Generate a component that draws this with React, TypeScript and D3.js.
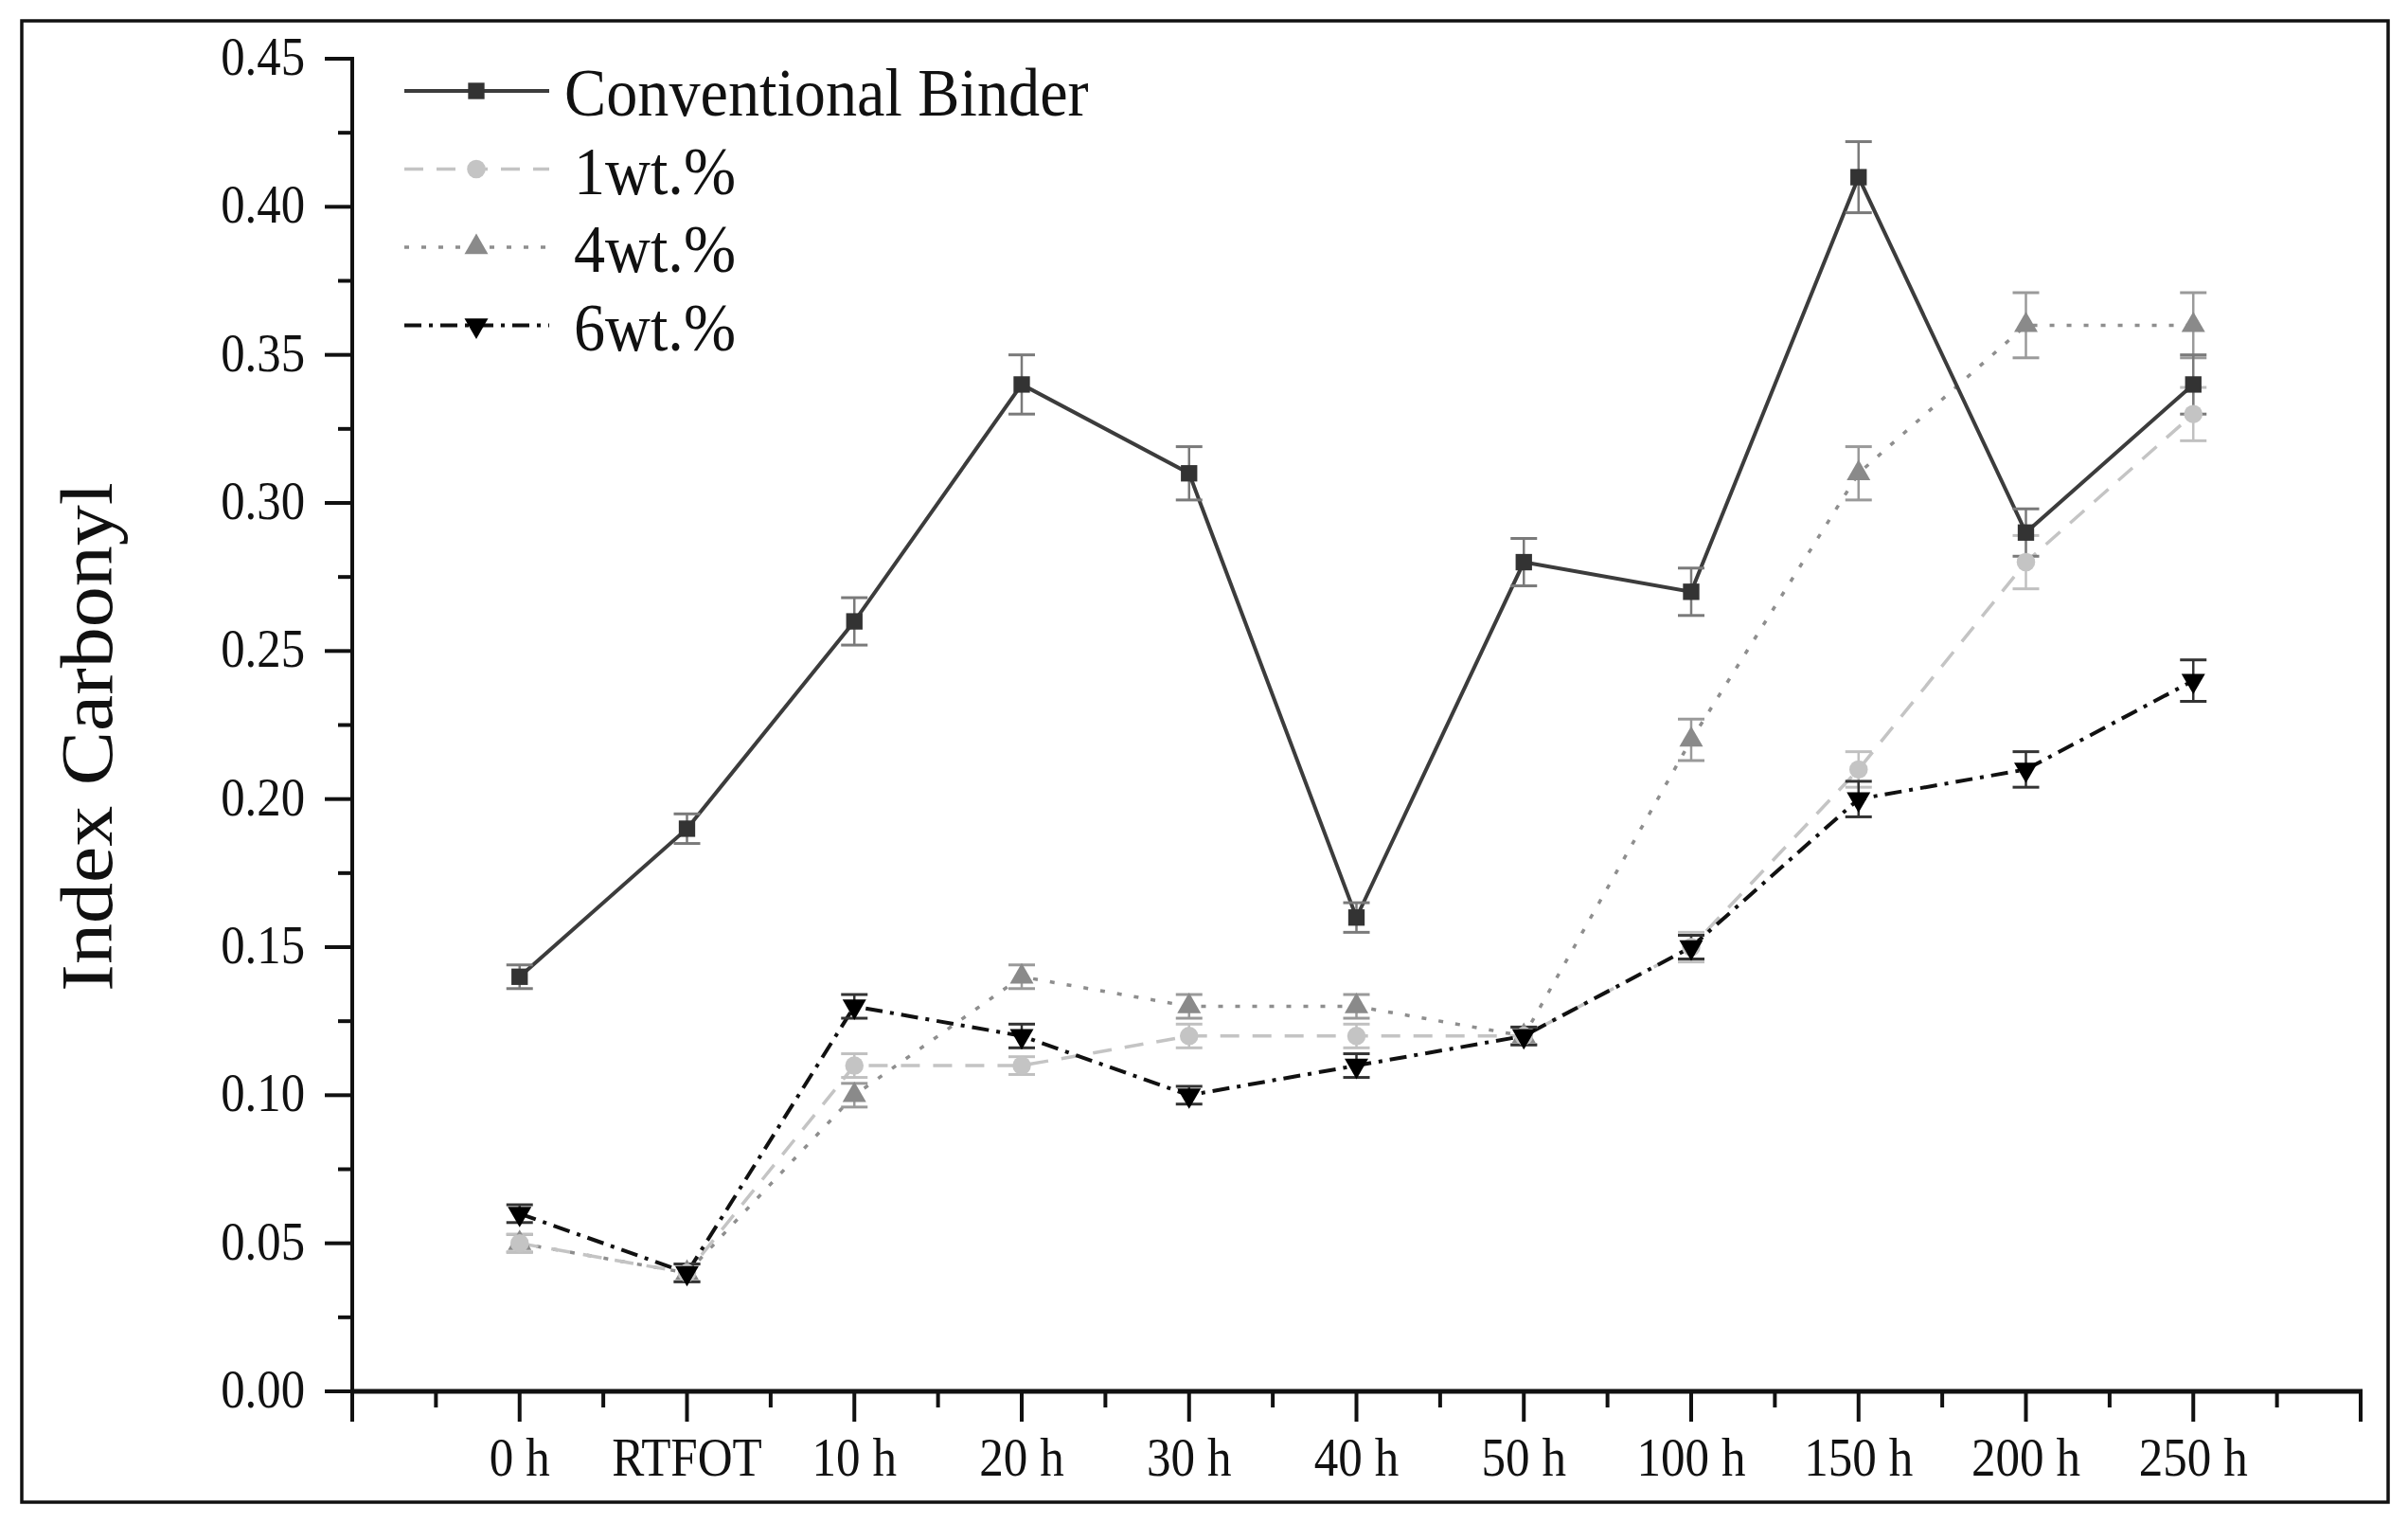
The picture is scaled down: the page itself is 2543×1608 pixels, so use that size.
import React from "react";
import * as d3 from "d3";

const categories = ["0 h", "RTFOT", "10 h", "20 h", "30 h", "40 h", "50 h", "100 h", "150 h", "200 h", "250 h"];
const conventional = [0.14, 0.19, 0.26, 0.34, 0.31, 0.16, 0.28, 0.27, 0.41, 0.29, 0.34];
const conventionalErr = [0.004, 0.005, 0.008, 0.01, 0.009, 0.005, 0.008, 0.008, 0.012, 0.008, 0.01];
const wt1 = [0.05, 0.04, 0.11, 0.11, 0.12, 0.12, 0.12, 0.15, 0.21, 0.28, 0.33];
const wt1Err = [0.003, 0.003, 0.004, 0.003, 0.004, 0.004, 0.003, 0.005, 0.006, 0.009, 0.009];
const wt4 = [0.05, 0.04, 0.1, 0.14, 0.13, 0.13, 0.12, 0.22, 0.31, 0.36, 0.36];
const wt4Err = [0.003, 0.003, 0.004, 0.004, 0.004, 0.004, 0.003, 0.007, 0.009, 0.011, 0.011];
const wt6 = [0.06, 0.04, 0.13, 0.12, 0.1, 0.11, 0.12, 0.15, 0.2, 0.21, 0.24];
const wt6Err = [0.003, 0.003, 0.004, 0.004, 0.003, 0.004, 0.003, 0.004, 0.006, 0.006, 0.007];
const yTicks = [0, 0.05, 0.1, 0.15, 0.2, 0.25, 0.3, 0.35, 0.4, 0.45];
const legendLabels = ["Conventional Binder", "1wt.%", "4wt.%", "6wt.%"];

const W = 2543;
const H = 1608;
const FONT = "'Liberation Serif', 'Times New Roman', serif";

type Series = {
  name: string;
  values: number[];
  err: number[];
  color: string;
  markerColor: string;
  errColor: string;
  dash: string;
  width: number;
  symbol: d3.SymbolType;
  size: number;
  rotate: number;
};

const series: Series[] = [
  { name: legendLabels[2], values: wt4, err: wt4Err, color: "#8e8e8e", markerColor: "#8a8a8a", errColor: "#9a9a9a", dash: "5 13", width: 3.5, symbol: d3.symbolTriangle, size: 270, rotate: 0 },
  { name: legendLabels[1], values: wt1, err: wt1Err, color: "#c4c4c4", markerColor: "#c4c4c4", errColor: "#c0c0c0", dash: "20 14", width: 3.5, symbol: d3.symbolCircle, size: 300, rotate: 0 },
  { name: legendLabels[0], values: conventional, err: conventionalErr, color: "#3c3c3c", markerColor: "#333333", errColor: "#7a7a7a", dash: "", width: 4, symbol: d3.symbolSquare, size: 300, rotate: 0 },
  { name: legendLabels[3], values: wt6, err: wt6Err, color: "#111111", markerColor: "#000000", errColor: "#333333", dash: "18 8 4 8", width: 4, symbol: d3.symbolTriangle, size: 270, rotate: 180 },
];

const legendOrder = [2, 1, 0, 3];

export default function App() {
  const x = d3.scaleLinear().domain([-1, 11]).range([372, 2493]);
  const y = d3.scaleLinear().domain([0, 0.45]).range([1469, 62]);
  const line = d3
    .line<number>()
    .x((_, i) => x(i))
    .y((d) => y(d));

  const yMinor = d3.range(0, 0.4501, 0.025);
  const xMajor = d3.range(-1, 12, 1);
  const xMinor = d3.range(-0.5, 11, 1);

  return (
    <svg
      width={W}
      height={H}
      style={{ position: "absolute", left: 0, top: 0, background: "#fff" }}
      fontFamily={FONT}
    >
      <rect x={0} y={0} width={W} height={H} fill="#fff" />
      <rect x={23} y={22} width={2499} height={1564} fill="none" stroke="#111" strokeWidth={3.5} />

      {/* y axis title */}
      <text
        transform={`translate(118, 778) rotate(-90) scale(1, 0.9)`}
        textAnchor="middle"
        fontSize={86}
        fill="#111"
      >
        Index Carbonyl
      </text>

      {/* series lines */}
      {series.map((s) => (
        <path
          key={"l" + s.name}
          d={line(s.values) || ""}
          fill="none"
          stroke={s.color}
          strokeWidth={s.width}
          strokeDasharray={s.dash || undefined}
        />
      ))}

      {/* error bars */}
      {series.map((s) => (
        <g key={"e" + s.name} stroke={s.errColor} strokeWidth={2.5}>
          {s.values.map((v, i) => {
            const cx = x(i);
            const y1 = y(v + s.err[i]);
            const y2 = y(v - s.err[i]);
            return (
              <g key={i}>
                <line x1={cx} x2={cx} y1={y1} y2={y2} />
                <line x1={cx - 14} x2={cx + 14} y1={y1} y2={y1} strokeWidth={3} />
                <line x1={cx - 14} x2={cx + 14} y1={y2} y2={y2} strokeWidth={3} />
              </g>
            );
          })}
        </g>
      ))}

      {/* markers */}
      {series.map((s) => {
        const sym = d3.symbol().type(s.symbol).size(s.size)();
        return (
          <g key={"m" + s.name}>
            {s.values.map((v, i) => (
              <path
                key={i}
                d={sym || ""}
                transform={`translate(${x(i)}, ${y(v)}) rotate(${s.rotate})`}
                fill={s.markerColor}
              />
            ))}
          </g>
        );
      })}

      {/* y axis */}
      <line x1={372} x2={372} y1={y(0.45) - 2} y2={1469} stroke="#111" strokeWidth={4} />
      {yMinor.map((t, i) => (
        <line
          key={"ym" + i}
          x1={372}
          x2={i % 2 === 0 ? 343 : 357}
          y1={y(t)}
          y2={y(t)}
          stroke="#111"
          strokeWidth={4}
        />
      ))}
      {yTicks.map((t) => (
        <text
          key={"yl" + t}
          transform={`translate(322, ${y(t) + 17}) scale(0.89, 1)`}
          textAnchor="end"
          fontSize={57}
          fill="#111"
        >
          {t.toFixed(2)}
        </text>
      ))}

      {/* x axis */}
      <line x1={370} x2={2495} y1={1469} y2={1469} stroke="#111" strokeWidth={5} />
      {xMajor.map((t) => (
        <line key={"xM" + t} x1={x(t)} x2={x(t)} y1={1469} y2={1501} stroke="#111" strokeWidth={4} />
      ))}
      {xMinor.map((t) => (
        <line key={"xm" + t} x1={x(t)} x2={x(t)} y1={1469} y2={1486} stroke="#111" strokeWidth={4} />
      ))}
      {categories.map((c, i) => (
        <text
          key={"xl" + c}
          transform={`translate(${x(i)}, 1558) scale(0.88, 1)`}
          textAnchor="middle"
          fontSize={58}
          fill="#111"
        >
          {c}
        </text>
      ))}

      {/* legend */}
      {legendOrder.map((si, row) => {
        const s = series[si];
        const ly = 96 + row * 82.5;
        const sym = d3.symbol().type(s.symbol).size(s.size)();
        return (
          <g key={"lg" + s.name}>
            <line
              x1={427}
              x2={580}
              y1={ly}
              y2={ly}
              stroke={s.color}
              strokeWidth={s.width}
              strokeDasharray={s.dash || undefined}
            />
            <path d={sym || ""} transform={`translate(503, ${ly}) rotate(${s.rotate})`} fill={s.markerColor} />
            <text
              transform={`translate(${row === 0 ? 596 : 606}, ${ly + 26}) scale(0.92, 1)`}
              fontSize={72}
              fill="#111"
            >
              {s.name}
            </text>
          </g>
        );
      })}
    </svg>
  );
}
